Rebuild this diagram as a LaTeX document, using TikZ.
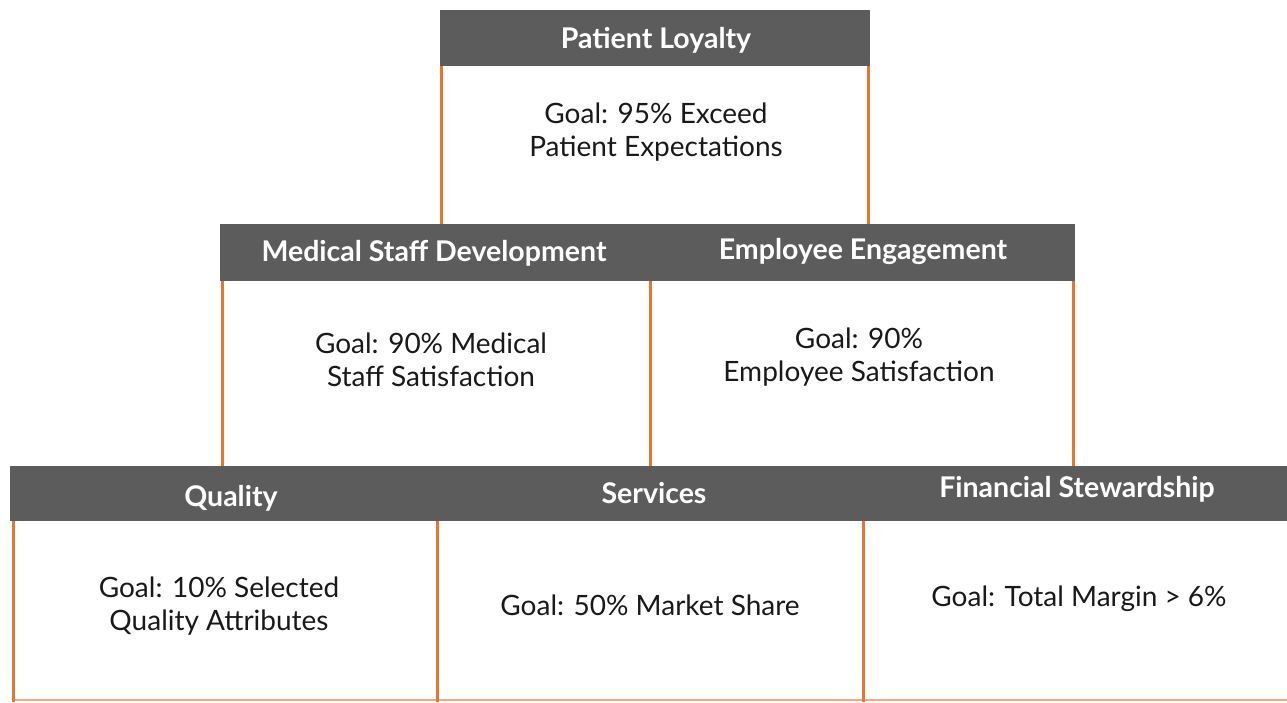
\documentclass[tikz,border=0pt]{standalone}
\usepackage{fontspec}
\setmainfont{Lato}
\begin{document}
\begin{tikzpicture}[x=1pt,y=-1pt,
  bar/.style={fill=barGray,draw=none},
  head/.style={text=white,font=\fontsize{28.5}{32}\selectfont\bfseries,anchor=center,inner sep=0pt},
  goal/.style={text=black!90,font=\fontsize{28}{33}\selectfont,align=center,anchor=center,inner sep=0pt},
  edge/.style={draw=edgeOrange,line width=3pt}]
\definecolor{barGray}{HTML}{5C5C5C}
\definecolor{edgeOrange}{HTML}{E5762F}
\useasboundingbox[fill=white] (0,0) rectangle (1287,702);

% orange side rules of each box
\coordinate (t1) at (441,60);  \coordinate (b1) at (441,228);
\coordinate (t2) at (868,60);  \coordinate (b2) at (868,228);
\coordinate (t3) at (222,276); \coordinate (b3) at (222,470);
\coordinate (t4) at (650,276); \coordinate (b4) at (650,470);
\coordinate (t5) at (1073,276);\coordinate (b5) at (1073,470);
\coordinate (t6) at (13,516);  \coordinate (b6) at (13,702);
\coordinate (t7) at (437,516); \coordinate (b7) at (437,702);
\coordinate (t8) at (863,516); \coordinate (b8) at (863,702);
\coordinate (l9) at (13,700);  \coordinate (r9) at (1287,700);
\foreach \i in {1,...,8} \draw[edge] (t\i) -- (b\i);
\draw[edgeOrange,line width=1.2pt,opacity=0.6] (l9) -- (r9);

% header bars
\fill[bar] (440,10) rectangle (870,66);
\fill[bar] (220,224) rectangle (1075,281);
\fill[bar] (10,466) rectangle (1287,521);

% headings
\node[head] (h1) at (656,40) {Patient Loyalty};
\node[head] (h2) at (434,253) {Medical Staff Development};
\node[head] (h3) at (863,251) {Employee Engagement};
\node[head] (h4) at (231,498) {Quality};
\node[head] (h5) at (654,493) {Services};
\node[head] (h6) at (1077,489) {Financial Stewardship};

% goals
\node[goal] (g1) at (656,132) {Goal: 95\% Exceed\\Patient Expectations};
\node[goal] (g2) at (431,360) {Goal: 90\% Medical\\Staff Satisfaction};
\node[goal] (g3) at (859,357) {Goal: 90\%\\Employee Satisfaction};
\node[goal] (g4) at (219,606) {Goal: 10\% Selected\\Quality Attributes};
\node[goal] (g5) at (650,605) {Goal: 50\% Market Share};
\node[goal] (g6) at (1079,599) {Goal: Total Margin > 6\%};
\end{tikzpicture}
\end{document}
